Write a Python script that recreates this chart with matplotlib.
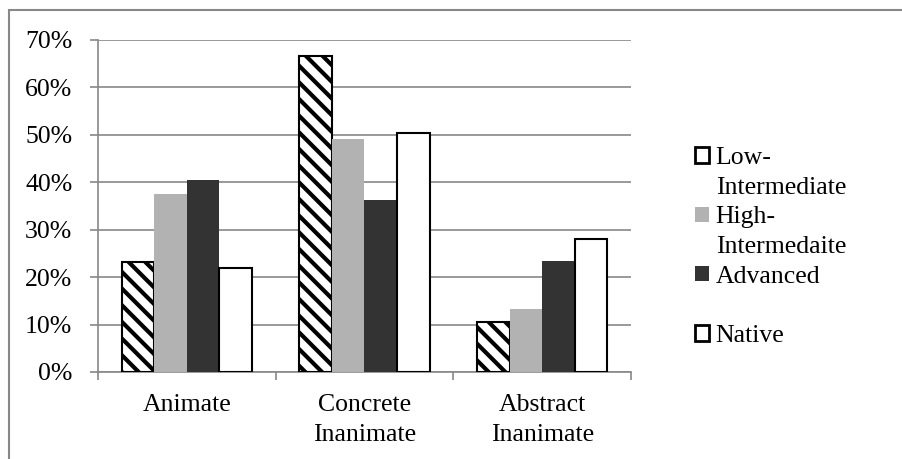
import numpy as np
import matplotlib.pyplot as plt
from matplotlib.patches import Patch, Rectangle

plt.rcParams['font.family'] = ['Liberation Serif', 'TeX Gyre Termes', 'DejaVu Serif']
plt.rcParams['hatch.linewidth'] = 3.0

categories = ["Animate", "Concrete\nInanimate", "Abstract\nInanimate"]
series_names = ["Low-Intermediate", "High-Intermedaite", "Advanced", "Native"]
low_intermediate = [0.231, 0.667, 0.106]
high_intermediate = [0.376, 0.491, 0.133]
advanced = [0.404, 0.362, 0.233]
native = [0.219, 0.504, 0.280]
y_ticks = [0.0, 0.1, 0.2, 0.3, 0.4, 0.5, 0.6, 0.7]

fs = 18.5
grid_col = "#888888"

fig = plt.figure(figsize=(9.03, 4.59), dpi=100)
ax = fig.add_axes([98 / 903, 1 - 372 / 459, 533 / 903, 332 / 459])

x = np.arange(len(categories))
bw = 0.1837
styles = [
    dict(facecolor="white", edgecolor="black", hatch="\\\\", linewidth=1.5),
    dict(facecolor="#b2b2b2", edgecolor="none"),
    dict(facecolor="#333333", edgecolor="none"),
    dict(facecolor="white", edgecolor="black", linewidth=1.5),
]
series = [low_intermediate, high_intermediate, advanced, native]
for i, (vals, st) in enumerate(zip(series, styles)):
    ax.bar(x + (i - 1.5) * bw, vals, width=bw, zorder=3, label=series_names[i], **st)

ax.set_xlim(-0.5, len(categories) - 0.5)
ax.set_ylim(0, 0.7)
ax.set_yticks(y_ticks)
ax.set_yticklabels([f"{int(round(v * 100))}%" for v in y_ticks], fontsize=fs)
ax.set_xticks(np.arange(-0.5, len(categories)), labels=[])
ax.set_xticks(x, labels=categories, minor=True, fontsize=fs)
for lbl in ax.get_xticklabels(minor=True):
    lbl.set_linespacing(1.45)
ax.tick_params(axis="x", which="major", length=6, width=1.2, color=grid_col, direction="out")
ax.tick_params(axis="x", which="minor", length=0, pad=16)
ax.tick_params(axis="y", length=6, width=1.2, color=grid_col, pad=12.5)

ax.yaxis.grid(True, color=grid_col, linewidth=1.2, zorder=0)
ax.set_axisbelow(True)
for side in ["top", "right"]:
    ax.spines[side].set_visible(False)
for side in ["left", "bottom"]:
    ax.spines[side].set_color(grid_col)
    ax.spines[side].set_linewidth(1.2)

# legend: multi-line labels split so the swatch sits on the first line
blank = Patch(facecolor="none", edgecolor="none")
handles = [
    Patch(facecolor="white", edgecolor="black", linewidth=2), blank,
    Patch(facecolor="#b2b2b2", edgecolor="none"), blank,
    Patch(facecolor="#333333", edgecolor="none"), blank,
    Patch(facecolor="white", edgecolor="black", linewidth=2),
]
labels = ["Low-", "Intermediate", "High-", "Intermedaite", "Advanced", " ", "Native"]
fig.legend(handles, labels, loc="upper left", bbox_to_anchor=(695 / 903, 1 - 147 / 459),
           frameon=False, fontsize=fs, borderpad=0, borderaxespad=0,
           handlelength=0.55, handleheight=0.55, handletextpad=0.25, labelspacing=0.3)

# outer chart border
fig.add_artist(Rectangle((9 / 903, -0.2), 1.2, 1.2 - 10 / 459, transform=fig.transFigure,
                         fill=False, edgecolor=grid_col, linewidth=1.5))

fig.savefig("out.png", dpi=100)
